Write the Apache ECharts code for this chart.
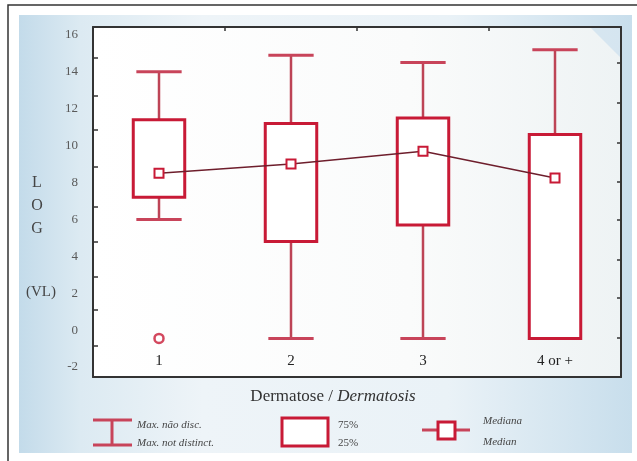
<!DOCTYPE html>
<html>
<head>
<meta charset="utf-8">
<script src="https://cdn.jsdelivr.net/npm/echarts@6/dist/echarts.min.js"></script>
<style>html,body{margin:0;padding:0;background:#fff}#c{width:637px;height:461px}</style>
</head>
<body>
<div id="c"></div>
<script>
const categories = ['1', '2', '3', '4 or +'];
const maxVals = [14.0, 14.9, 14.5, 15.2];
const q3Vals = [11.4, 11.2, 11.5, 10.6];
const medians = [8.5, 9.0, 9.7, 8.25];
const q1Vals = [7.2, 4.8, 5.7, -0.45];
const minVals = [6.0, -0.45, -0.45, -0.45];
const outliers = [[0, -0.45]];
const yLabels = [-2, 0, 2, 4, 6, 8, 10, 12, 14, 16];
const leftTicks = [14.75, 12.7, 10.85, 8.85, 6.7, 4.8, 2.9, 1.1, -0.85];
const rightTicks = [14.5, 12.3, 10.15, 8.05, 6.0, 3.8, 1.75, -0.4];

const boxData = categories.map((c, i) => [i, minVals[i], q1Vals[i], q3Vals[i], maxVals[i]]);

const RED = '#c81a36';
const WHISK = '#bd4456';
const SERIF = '"Liberation Serif", "DejaVu Serif", serif';

const chart = echarts.init(document.getElementById('c'), null, {renderer: 'canvas'});

const option = {
  animation: false,
  grid: {left: 93, right: 16, top: 27, bottom: 84},
  graphic: [
    {type: 'rect', z: -10, shape: {x: 19, y: 15, width: 613, height: 438},
      style: {fill: {type: 'linear', x: 0, y: 0, x2: 1, y2: 0, colorStops: [
        {offset: 0, color: '#c3dbea'}, {offset: 0.1, color: '#dceaf2'}, {offset: 0.3, color: '#eef4f8'},
        {offset: 0.7, color: '#eaf2f7'}, {offset: 1, color: '#c8deec'}]}}},
    {type: 'rect', z: -9, shape: {x: 93, y: 27, width: 528, height: 350},
      style: {fill: {type: 'linear', x: 0, y: 0, x2: 1, y2: 0, colorStops: [
        {offset: 0, color: '#ffffff'}, {offset: 0.6, color: '#fafbfb'}, {offset: 1, color: '#eef3f4'}]}}},
    {type: 'polygon', z: -8, shape: {points: [[590, 27], [621, 27], [621, 58]]},
      style: {fill: 'rgba(196,220,236,0.6)'}},
    {type: 'rect', z: 50, shape: {x: 8, y: 5, width: 700, height: 520},
      style: {fill: null, stroke: '#333', lineWidth: 1.5}},
    {type: 'text', z: 50, x: 37, y: 183, style: {text: 'L', font: '16px ' + SERIF, fill: '#444', align: 'center', verticalAlign: 'middle'}},
    {type: 'text', z: 50, x: 37, y: 206, style: {text: 'O', font: '16px ' + SERIF, fill: '#444', align: 'center', verticalAlign: 'middle'}},
    {type: 'text', z: 50, x: 37, y: 229, style: {text: 'G', font: '16px ' + SERIF, fill: '#444', align: 'center', verticalAlign: 'middle'}},
    {type: 'text', z: 50, x: 41, y: 292, style: {text: '(VL)', font: '15px ' + SERIF, fill: '#444', align: 'center', verticalAlign: 'middle'}},
    {type: 'text', z: 50, x: 333, y: 397, style: {
      text: '{a|Dermatose / }{b|Dermatosis}', align: 'center', verticalAlign: 'middle',
      rich: {a: {font: '17px ' + SERIF, fill: '#333'}, b: {font: 'italic 17px ' + SERIF, fill: '#333'}}}},
    // legend: whisker icon
    {type: 'line', z: 50, shape: {x1: 93, y1: 420, x2: 132, y2: 420}, style: {stroke: '#c8445a', lineWidth: 3}},
    {type: 'line', z: 50, shape: {x1: 93, y1: 445, x2: 132, y2: 445}, style: {stroke: '#c8445a', lineWidth: 3}},
    {type: 'line', z: 50, shape: {x1: 112, y1: 420, x2: 112, y2: 445}, style: {stroke: '#c8445a', lineWidth: 3}},
    {type: 'text', z: 50, x: 137, y: 425, style: {text: 'Max. não disc.', font: 'italic 11px ' + SERIF, fill: '#444', verticalAlign: 'middle'}},
    {type: 'text', z: 50, x: 137, y: 443, style: {text: 'Max. not distinct.', font: 'italic 11px ' + SERIF, fill: '#444', verticalAlign: 'middle'}},
    // legend: box icon
    {type: 'rect', z: 50, shape: {x: 282, y: 418, width: 46, height: 28}, style: {fill: '#fff', stroke: RED, lineWidth: 3}},
    {type: 'text', z: 50, x: 338, y: 425, style: {text: '75%', font: '11px ' + SERIF, fill: '#444', verticalAlign: 'middle'}},
    {type: 'text', z: 50, x: 338, y: 443, style: {text: '25%', font: '11px ' + SERIF, fill: '#444', verticalAlign: 'middle'}},
    // legend: median icon
    {type: 'line', z: 50, shape: {x1: 422, y1: 430, x2: 470, y2: 430}, style: {stroke: '#c8445a', lineWidth: 3}},
    {type: 'rect', z: 51, shape: {x: 438, y: 422, width: 17, height: 17}, style: {fill: '#fff', stroke: RED, lineWidth: 3}},
    {type: 'text', z: 50, x: 483, y: 421, style: {text: 'Mediana', font: 'italic 11px ' + SERIF, fill: '#444', verticalAlign: 'middle'}},
    {type: 'text', z: 50, x: 483, y: 442, style: {text: 'Median', font: 'italic 11px ' + SERIF, fill: '#444', verticalAlign: 'middle'}}
  ],
  xAxis: [
    {type: 'category', data: categories, position: 'bottom', boundaryGap: true,
      axisLine: {show: true, onZero: false, lineStyle: {color: '#333', width: 2}},
      axisTick: {show: false},
      axisLabel: {inside: true, margin: 8, fontFamily: SERIF, fontSize: 15, color: '#222'},
      splitLine: {show: false}},
    {type: 'category', data: categories, position: 'top', boundaryGap: true,
      axisLine: {show: true, onZero: false, lineStyle: {color: '#333', width: 2}},
      axisTick: {show: true, inside: true, length: 4, lineStyle: {color: '#333', width: 1.5}},
      axisLabel: {show: false}, splitLine: {show: false}}
  ],
  yAxis: [
    {type: 'value', min: -2.54, max: 16.43, position: 'left',
      axisLine: {show: true, onZero: false, lineStyle: {color: '#333', width: 2}},
      axisTick: {show: true, inside: true, length: 5, customValues: leftTicks, lineStyle: {color: '#333', width: 1.5}},
      axisLabel: {customValues: yLabels, margin: 15, fontFamily: SERIF, fontSize: 13, color: '#5a5a5a'},
      splitLine: {show: false}},
    {type: 'value', min: -2.54, max: 16.43, position: 'right',
      axisLine: {show: true, onZero: false, lineStyle: {color: '#333', width: 2}},
      axisTick: {show: true, inside: true, length: 4, customValues: rightTicks, lineStyle: {color: '#333', width: 1.5}},
      axisLabel: {show: false}, splitLine: {show: false}}
  ],
  series: [
    {type: 'custom', xAxisIndex: 0, yAxisIndex: 0, z: 2,
      data: boxData,
      renderItem: function (params, api) {
        const x = api.value(0);
        const vMin = api.value(1), vQ1 = api.value(2), vQ3 = api.value(3), vMax = api.value(4);
        const pMin = api.coord([x, vMin]);
        const pQ1 = api.coord([x, vQ1]);
        const pQ3 = api.coord([x, vQ3]);
        const pMax = api.coord([x, vMax]);
        const bw = api.size([1, 0])[0] * 0.39;
        const cw = bw * 0.44;
        const cx = pMax[0];
        const children = [
          {type: 'line', shape: {x1: cx, y1: pQ3[1], x2: cx, y2: pMax[1]}, style: {stroke: WHISK, lineWidth: 2.5}},
          {type: 'line', shape: {x1: cx - cw, y1: pMax[1], x2: cx + cw, y2: pMax[1]}, style: {stroke: '#c8445a', lineWidth: 3}}
        ];
        if (vMin < vQ1) {
          children.push({type: 'line', shape: {x1: cx, y1: pQ1[1], x2: cx, y2: pMin[1]}, style: {stroke: WHISK, lineWidth: 2.5}});
          children.push({type: 'line', shape: {x1: cx - cw, y1: pMin[1], x2: cx + cw, y2: pMin[1]}, style: {stroke: '#c8445a', lineWidth: 3}});
        }
        children.push({type: 'rect', shape: {x: cx - bw / 2, y: pQ3[1], width: bw, height: pQ1[1] - pQ3[1]},
          style: {fill: '#fff', stroke: RED, lineWidth: 3}});
        return {type: 'group', children: children};
      }},
    {type: 'line', xAxisIndex: 0, yAxisIndex: 0, z: 3, data: medians,
      symbol: 'rect', symbolSize: 9, showAllSymbol: true,
      lineStyle: {color: '#6e1e2c', width: 1.5},
      itemStyle: {color: '#fff', borderColor: RED, borderWidth: 2}},
    {type: 'scatter', xAxisIndex: 0, yAxisIndex: 0, z: 3, data: outliers,
      symbol: 'circle', symbolSize: 9,
      itemStyle: {color: '#fff', borderColor: RED, borderWidth: 2.5}}
  ]
};
chart.setOption(option);
</script>
</body>
</html>
